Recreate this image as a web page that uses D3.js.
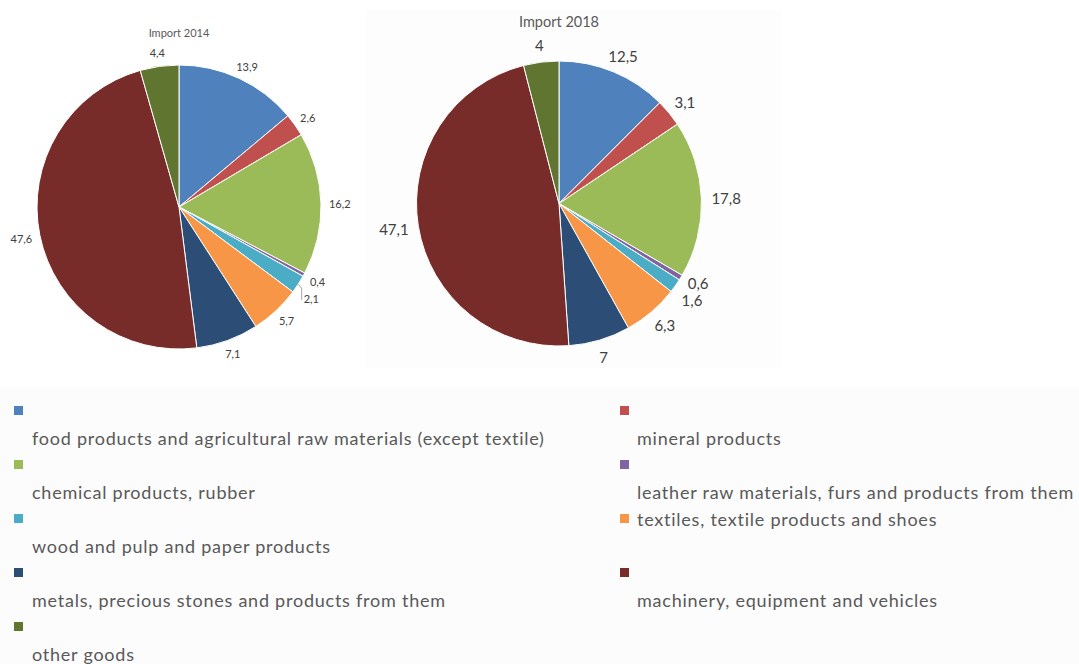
<!DOCTYPE html>
<html>
<head>
<meta charset="utf-8">
<script src="https://cdnjs.cloudflare.com/ajax/libs/d3/7.8.5/d3.min.js"></script>
<style>
  html, body { margin: 0; padding: 0; background: #ffffff; }
  svg { display: block; }
</style>
</head>
<body>
<svg id="chart" width="1079" height="664"></svg>
<script>
// ---------- data ----------
const categories = [
  "food products and agricultural raw materials (except textile)",
  "mineral products",
  "chemical products, rubber",
  "leather raw materials, furs and products from them",
  "wood and pulp and paper products",
  "textiles, textile products and shoes",
  "metals, precious stones and products from them",
  "machinery, equipment and vehicles",
  "other goods"
];
const import2014 = [13.9, 2.6, 16.2, 0.4, 2.1, 5.7, 7.1, 47.6, 4.4];
const import2018 = [12.5, 3.1, 17.8, 0.6, 1.6, 6.3, 7, 47.1, 4];
const chartTitles = ["Import 2014", "Import 2018"];
const colors = ["#4F81BD", "#C0504D", "#9BBB59", "#8064A2", "#4BACC6",
                "#F79646", "#2C4D75", "#772C2A", "#5F7530"];

// ---------- layout ----------
const svg = d3.select("#chart");
const FONT = "Lato, 'Open Sans', sans-serif";
const locale = d3.formatLocale({decimal: ",", thousands: ".", grouping: [3], currency: ["", ""]});
const fmt = locale.format("~f");

// very faint panel backgrounds (as in the composite image)
svg.append("rect").attr("x", 366).attr("y", 10).attr("width", 416).attr("height", 358).attr("fill", "#fdfdfd");
svg.append("rect").attr("x", 0).attr("y", 388).attr("width", 1079).attr("height", 276).attr("fill", "#fcfcfc");

const pies = [
  {values: import2014, title: chartTitles[0], cx: 179, cy: 207, r: 142, font: 11, titleFont: 11, titleY: 37, gap: 8, push: 1.55, split: false, leader: true},
  {values: import2018, title: chartTitles[1], cx: 559, cy: 203.5, r: 142.5, font: 15, titleFont: 14.5, titleY: 27, gap: 10, push: 1.15, split: true, leader: false}
];

const pie = d3.pie().sort(null).value(d => d);

pies.forEach(p => {
  const g = svg.append("g").attr("transform", `translate(${p.cx},${p.cy})`);
  const arc = d3.arc().innerRadius(0).outerRadius(p.r);
  const arcs = pie(p.values);

  g.selectAll("path.slice").data(arcs).enter().append("path")
    .attr("class", "slice")
    .attr("d", arc)
    .attr("fill", (d, i) => colors[i])
    .attr("stroke", "#ffffff")
    .attr("stroke-width", 1);

  svg.append("text")
    .attr("x", p.cx).attr("y", p.titleY)
    .attr("text-anchor", "middle")
    .attr("font-family", FONT).attr("font-size", p.titleFont)
    .attr("fill", "#595959")
    .text(p.title);

  // labels
  const labels = g.selectAll("text.lab").data(arcs).enter().append("text")
    .attr("class", "lab")
    .attr("text-anchor", "middle")
    .attr("dominant-baseline", "central")
    .attr("font-family", FONT).attr("font-size", p.font)
    .attr("fill", "#404040")
    .text(d => fmt(d.data));

  const info = [];
  labels.each(function(d) {
    const w = this.getComputedTextLength();
    const h = p.font;
    const a = (d.startAngle + d.endAngle) / 2;
    const s = Math.sin(a), c = -Math.cos(a);
    const R = p.r + p.gap;
    const x = R * s + s * w / 2;
    const y = R * c + c * h / 2;
    info.push({node: this, a, x, y, w, h, moved: false});
  });
  for (let i = 1; i < info.length; i++) {
    const prev = info[i - 1], cur = info[i];
    if (Math.sin(cur.a) > 0 && Math.abs(cur.y - prev.y) < cur.h * 1.0 && Math.abs(cur.x - prev.x) < (cur.w + prev.w) / 2) {
      const need = cur.h * p.push - (cur.y - prev.y);
      if (p.split) { prev.y -= need / 2; cur.y += need / 2; }
      else { cur.y += need; }
      cur.moved = true;
    }
  }
  info.forEach(o => {
    d3.select(o.node).attr("x", o.x).attr("y", o.y);
    if (o.moved && p.leader) {
      const ex = p.r * Math.sin(o.a), ey = -p.r * Math.cos(o.a);
      const lx = o.x - o.w / 2 - 2;
      g.append("polyline")
        .attr("points", `${ex},${ey} ${lx},${ey + 4} ${lx},${o.y + 2}`)
        .attr("fill", "none").attr("stroke", "#a6a6a6").attr("stroke-width", 1);
    }
  });
});

// ---------- legend ----------
const legendCols = [{sq: 14, tx: 32}, {sq: 620, tx: 637}];
const legendTop = 406, rowStep = 54, textDrop = 27, sqSize = 9;
const inlineItems = new Set([5]); // Excel placed this entry's text next to its marker
const legendFont = 18;
const longestTarget = 513; // width of the longest legend entry in the reference

// measure to derive letter spacing matching the reference's loose Calibri rendering
const probe = svg.append("text").attr("font-family", FONT).attr("font-size", legendFont).text(categories[0]);
const probeW = probe.node().getComputedTextLength();
probe.remove();
const letterSpacing = (longestTarget - probeW) / categories[0].length;

categories.forEach((name, i) => {
  const col = legendCols[i % 2];
  const row = Math.floor(i / 2);
  const y0 = legendTop + row * rowStep;
  svg.append("rect")
    .attr("x", col.sq).attr("y", y0)
    .attr("width", sqSize).attr("height", sqSize)
    .attr("fill", colors[i]);
  const inline = inlineItems.has(i);
  svg.append("text")
    .attr("x", col.tx)
    .attr("y", y0 + sqSize / 2 + (inline ? 0 : textDrop))
    .attr("dominant-baseline", "central")
    .attr("font-family", FONT).attr("font-size", legendFont)
    .attr("letter-spacing", letterSpacing)
    .attr("fill", "#595959")
    .text(name);
});
</script>
</body>
</html>
